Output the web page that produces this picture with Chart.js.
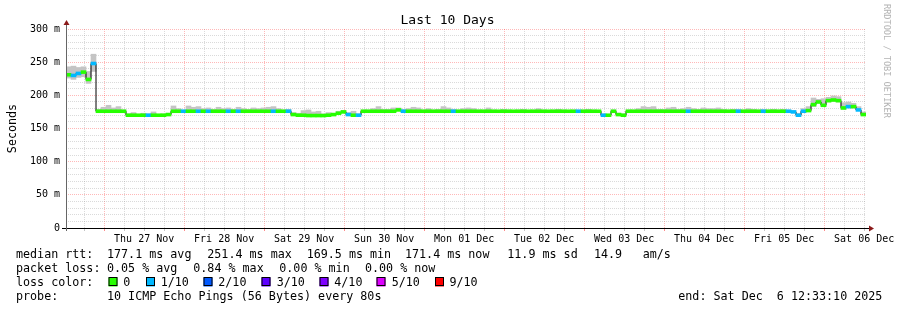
<!DOCTYPE html>
<html lang="en">
<head>
<meta charset="UTF-8">
<title>Last 10 Days</title>
<script src="https://cdn.jsdelivr.net/npm/chart.js"></script>
<style>
  html, body { margin: 0; padding: 0; background: #fff; }
</style>
</head>
<body>
<canvas id="rtt" width="897" height="310"></canvas>
<script>
// window: Wed 26 Nov 12:33:10 -> Sat 06 Dec 12:33:10, one sample every 1.5 h
const spanHours = 240;
const stepHours = 1.5;
const firstMidnight = 11.45; // hours from window start to Thu 27 Nov 00:00

const dayLabels = ["Thu 27 Nov", "Fri 28 Nov", "Sat 29 Nov", "Sun 30 Nov", "Mon 01 Dec",
                   "Tue 02 Dec", "Wed 03 Dec", "Thu 04 Dec", "Fri 05 Dec", "Sat 06 Dec"];

const yMajor = [0, 50, 100, 150, 200, 250, 300];
const yLabels = ["0", "50 m", "100 m", "150 m", "200 m", "250 m", "300 m"];

// median rtt (ms)
const median = [
  231,230,233,235,224,248,176,176,176,176, 176,176,170,170,170,170,170,170,170,170,
  171,176,176,176,176,176,176,176,176,176, 176,176,176,176,176,176,176,176,176,176,
  176,176,176,176,176,171,170,170,169.5,169.5, 169.5,169.5,170,171,173,175,171,170,170,176,
  176,176,176,176,176,176,178,176,176,176, 176,176,176,176,176,176,176,176,176,176,
  176,176,176,176,176,176,176,176,176,176, 176,176,176,176,176,176,176,176,176,176,
  176,176,176,176,176,176,176,170,170,176, 171,170,176,176,176,176,176,176,176,176,
  176,176,176,176,176,176,176,176,176,176, 176,176,176,176,176,176,176,176,176,176,
  176,176,176,176,176,175,170,176,177,186, 190,185,192,193,192,181,183,183,178,171
];

// smoke: lowest / highest ping of each sample (ms)
const smokeLo = [
  226,224,227,228,218,236,175,175,175,175, 175,175,169,169,169,169,169,169,169,169,
  170,175,175,175,175,175,175,175,175,175, 175,175,175,175,175,175,175,175,175,175,
  175,175,175,175,175,170,169,169,168.5,168.5, 168.5,168.5,169,170,172,174,170,169,169,175,
  175,175,175,175,175,175,177,175,175,175, 175,175,175,175,175,175,175,175,175,175,
  175,175,175,175,175,175,175,175,175,175, 175,175,175,175,175,175,175,175,175,175,
  175,175,175,175,175,175,175,169,169,175, 170,169,175,175,175,175,175,175,175,175,
  175,175,175,175,175,175,175,175,175,175, 175,175,175,175,175,175,175,175,175,175,
  175,175,175,175,175,174,169,175,176,183, 188,183,190,191,190,179,181,181,177,170
];
const smokeHi = [
  243,244,242,243,236,262,179,182,185,181, 183,178,172,174,171,173,172,175,171,172,
  173,184,180,178,184,182,183,180,181,179, 182,180,181,179,182,180,179,181,180,181,
  182,183,180,178,179,174,173,177,178,175, 176,172,174,173,176,177,174,176,172,178,
  178,180,183,179,179,181,181,179,180,182, 181,178,180,178,179,183,181,179,178,180,
  181,180,178,178,181,178,177,179,178,177, 178,179,177,178,180,178,177,178,179,178,
  177,178,178,178,179,178,177,172,171,178, 173,172,178,178,180,183,182,183,179,179,
  181,182,179,180,182,180,179,181,180,180, 181,179,178,179,179,178,180,179,178,179,
  178,179,178,179,178,177,173,180,183,196, 194,195,197,199,198,189,190,188,183,175
];

// lost pings out of 10 per sample
const loss = [
  0,1,1,0,0,1,0,0,0,0, 0,0,0,0,0,0,1,0,0,0,
  0,0,0,1,0,0,1,0,1,0, 0,0,1,0,1,0,0,0,0,0,
  0,1,0,0,1,0,0,0,0,0, 0,0,0,0,0,0,1,0,1,0,
  0,0,0,0,0,0,0,1,0,0, 0,0,0,0,0,0,0,1,0,0,
  0,0,0,0,0,0,0,0,0,0, 0,0,0,0,0,0,0,0,0,0,
  0,0,1,0,0,0,0,1,0,0, 0,0,0,0,0,0,0,0,0,0,
  0,0,0,0,1,0,0,0,0,0, 0,0,0,0,1,0,0,0,0,1,
  0,0,0,0,1,1,1,1,0,0, 0,0,0,0,0,0,1,0,1,0
];

const lossSteps = ["0", "1/10", "2/10", "3/10", "4/10", "5/10", "9/10"];
const lossColors = ["#26ff00", "#00b8ff", "#0059ff", "#5e00ff", "#7e00ff", "#dd00ff", "#ff0000"];

const MONO = '"DejaVu Sans Mono", monospace';
const RED_GRID = "rgba(255,0,0,0.28)";
const GRAY_GRID = "rgba(140,140,140,0.32)";
const BAND = 2.2; // half thickness of the median line, in ms

const times = median.map((_, i) => stepHours * (i + 0.5));
const lossColor = n => n >= 9 ? lossColors[6] : lossColors[Math.min(n, 5)];

function isMidnight(h) {
  const d = (h - firstMidnight) / 24;
  return Math.abs(d - Math.round(d)) < 1e-6;
}

const decor = {
  id: "decor",
  afterDraw(chart) {
    const ctx = chart.ctx, a = chart.chartArea;
    ctx.save();

    // axes
    ctx.lineWidth = 1;
    ctx.strokeStyle = "#000";
    ctx.beginPath();
    ctx.moveTo(62, a.bottom + 0.5);
    ctx.lineTo(a.right + 4, a.bottom + 0.5);
    ctx.stroke();
    ctx.strokeStyle = "#666";
    ctx.beginPath();
    ctx.moveTo(a.left + 0.5, a.bottom + 3);
    ctx.lineTo(a.left + 0.5, a.top - 5);
    ctx.stroke();

    // arrow heads
    ctx.fillStyle = "#8b1a1a";
    ctx.beginPath();
    ctx.moveTo(a.left + 0.5, a.top - 9);
    ctx.lineTo(a.left - 2.5, a.top - 4);
    ctx.lineTo(a.left + 3.5, a.top - 4);
    ctx.fill();
    ctx.beginPath();
    ctx.moveTo(a.right + 8, a.bottom + 0.5);
    ctx.lineTo(a.right + 3, a.bottom - 2.5);
    ctx.lineTo(a.right + 3, a.bottom + 3.5);
    ctx.fill();

    // title
    ctx.fillStyle = "#000";
    ctx.font = "13px " + MONO;
    ctx.textAlign = "center";
    ctx.textBaseline = "alphabetic";
    ctx.fillText("Last 10 Days", 447.5, 24);

    // y title
    ctx.font = "11.7px " + MONO;
    ctx.save();
    ctx.translate(15.5, (a.top + a.bottom) / 2);
    ctx.rotate(-Math.PI / 2);
    ctx.fillText("Seconds", 0, 0);
    ctx.restore();

    // watermark
    ctx.save();
    ctx.fillStyle = "#b4b4b4";
    ctx.font = "8.6px " + MONO;
    ctx.textAlign = "left";
    ctx.translate(884, 4);
    ctx.rotate(Math.PI / 2);
    ctx.fillText("RRDTOOL / TOBI OETIKER", 0, 0);
    ctx.restore();

    // legend
    ctx.font = "11.7px " + MONO;
    ctx.textAlign = "left";
    const rows = [257.5, 271.6, 285.7, 299.8];
    const put = (s, x, r) => ctx.fillText(s, x, rows[r]);
    put("median rtt:", 16, 0);
    put("177.1 ms avg", 107, 0);
    put("251.4 ms max", 207.3, 0);
    put("169.5 ms min", 306.7, 0);
    put("171.4 ms now", 405, 0);
    put("11.9 ms sd", 507.3, 0);
    put("14.9", 594, 0);
    put("am/s", 642.7, 0);

    put("packet loss:", 16, 1);
    put("0.05 % avg", 107, 1);
    put("0.84 % max", 193.3, 1);
    put("0.00 % min", 279.3, 1);
    put("0.00 % now", 365, 1);

    put("loss color:", 16, 2);
    const boxX = [108.5, 146, 203.5, 261.5, 319.5, 376.5, 435];
    const labX = [123.3, 160.7, 218.3, 276.7, 334.3, 391.7, 449.5];
    lossSteps.forEach((s, i) => {
      ctx.fillStyle = lossColors[i];
      ctx.fillRect(boxX[i], 277.5, 9, 9);
      ctx.strokeStyle = "#000";
      ctx.strokeRect(boxX[i] + 0.5, 277.5, 8, 8);
      ctx.fillStyle = "#000";
      put(s, labX[i], 2);
    });

    put("probe:", 16, 3);
    put("10 ICMP Echo Pings (56 Bytes) every 80s", 107, 3);
    put("end: Sat Dec  6 12:33:10 2025", 678.3, 3);

    ctx.restore();
  }
};

new Chart(document.getElementById("rtt"), {
  type: "bar",
  data: {
    datasets: [
      {
        type: "bar",
        label: "median",
        order: 1,
        grouped: false,
        data: median.map((m, i) => ({ x: times[i], y: [m - BAND, m + BAND] })),
        backgroundColor: loss.map(lossColor),
        borderWidth: 0,
        barPercentage: 1,
        categoryPercentage: 1
      },
      {
        type: "line",
        label: "median step",
        order: 2,
        data: median.map((m, i) => ({ x: times[i], y: m })),
        stepped: "middle",
        borderColor: "#000",
        borderWidth: 1,
        pointRadius: 0,
        fill: false
      },
      {
        type: "bar",
        label: "smoke",
        order: 3,
        grouped: false,
        data: smokeLo.map((lo, i) => ({ x: times[i], y: [lo, smokeHi[i]] })),
        backgroundColor: "#c4c4c4",
        borderWidth: 0,
        barPercentage: 1,
        categoryPercentage: 1
      }
    ]
  },
  options: {
    responsive: false,
    animation: false,
    devicePixelRatio: 1,
    events: [],
    layout: { padding: { top: 29, right: 31, left: 0, bottom: 0 } },
    plugins: { legend: { display: false }, tooltip: { enabled: false } },
    scales: {
      x: {
        type: "linear",
        min: 0,
        max: spanHours,
        offset: false,
        afterBuildTicks(axis) {
          const t = [];
          for (let h = firstMidnight - 6; h <= spanHours; h += 6) if (h >= 0) t.push({ value: h });
          axis.ticks = t;
        },
        afterFit(axis) { axis.height = 82; },
        border: { display: false, dash: [1, 1] },
        grid: {
          offset: false,
          color: c => c.tick && isMidnight(c.tick.value) ? RED_GRID : GRAY_GRID,
          tickColor: c => c.tick && isMidnight(c.tick.value) ? "rgba(255,0,0,0.45)" : "rgba(140,140,140,0.5)",
          tickLength: 3,
          tickBorderDash: []
        },
        ticks: {
          autoSkip: false,
          maxRotation: 0,
          padding: 2,
          color: "#000",
          font: { family: MONO, size: 10 },
          callback(v) {
            const d = (v - firstMidnight - 12) / 24;
            const k = Math.round(d);
            return Math.abs(d - k) < 1e-6 && dayLabels[k] ? dayLabels[k] : "";
          }
        }
      },
      y: {
        type: "linear",
        min: 0,
        max: 300,
        afterBuildTicks(axis) {
          const t = [];
          for (let v = 0; v <= 300; v += 10) t.push({ value: v });
          axis.ticks = t;
        },
        afterFit(axis) { axis.width = 66; },
        border: { display: false, dash: [1, 1] },
        grid: {
          color: c => c.tick && c.tick.value % 50 === 0 ? RED_GRID : GRAY_GRID,
          drawTicks: false
        },
        ticks: {
          autoSkip: false,
          padding: 6,
          color: "#000",
          font: { family: MONO, size: 10 },
          callback(v) {
            const k = yMajor.indexOf(v);
            return k >= 0 ? yLabels[k] : "";
          }
        }
      }
    }
  },
  plugins: [decor]
});
</script>
</body>
</html>
